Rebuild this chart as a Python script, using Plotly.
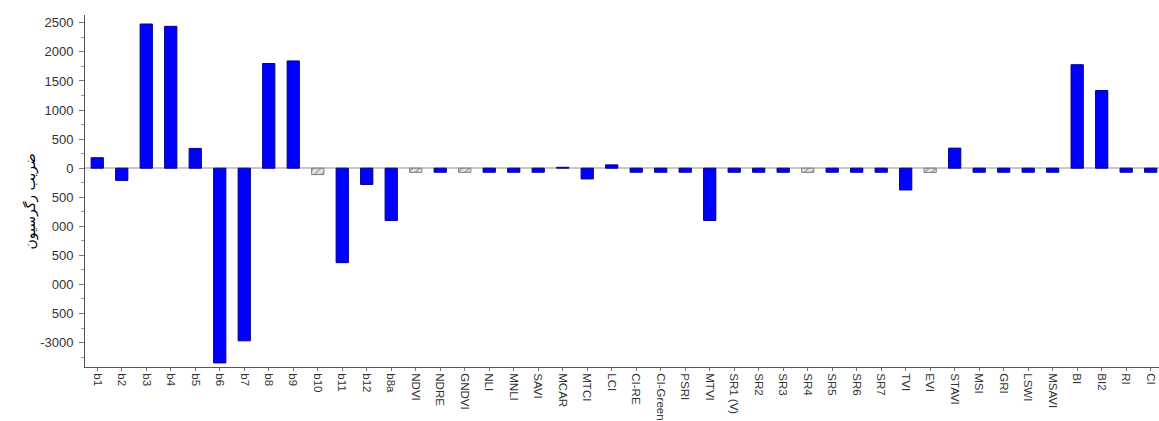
import plotly.graph_objects as go

# Regression coefficients per band / spectral index
categories = [
    "b1", "b2", "b3", "b4", "b5", "b6", "b7", "b8", "b9", "b10", "b11", "b12", "b8a",
    "NDVI", "NDRE", "GNDVI", "NLI", "MNLI", "SAVI", "MCAR", "MTCI", "LCI", "CI-RE",
    "CI-Green", "PSRI", "MTVI", "SR1 (V)", "SR2", "SR3", "SR4", "SR5", "SR6", "SR7",
    "TVI", "EVI", "STAVI", "MSI", "GRI", "LSWI", "MSAVI", "BI", "BI2", "RI", "CI",
]
coefficients = [
    180, -210, 2480, 2440, 340, -3350, -2970, 1800, 1845, -110, -1625, -280, -900,
    -72, -70, -72, -70, -70, -70, 15, -185, 57, -70,
    -70, -70, -900, -70, -70, -70, -72, -70, -70, -70,
    -375, -72, 345, -70, -70, -70, -70, 1780, 1335, -70, -70,
]
# Terms dropped from the model are drawn hatched
excluded = {"b10", "NDVI", "GNDVI", "SR4", "EVI"}

y_ticks = [2500, 2000, 1500, 1000, 500, 0, -500, -1000, -1500, -2000, -2500, -3000]
y_title = "ضریب رگرسیون"

fill = ["#e4e4e4" if c in excluded else "#0000ff" for c in categories]
edge = ["#7a7a7a" if c in excluded else "#00008b" for c in categories]
hatch = ["/" if c in excluded else "" for c in categories]

fig = go.Figure(
    go.Bar(
        x=categories,
        y=coefficients,
        width=0.5,
        marker=dict(
            color=fill,
            line=dict(color=edge, width=1),
            pattern=dict(shape=hatch, fillmode="overlay", fgcolor="#666666",
                         size=5, solidity=0.25),
        ),
        hoverinfo="x+y",
    )
)

axis_font = dict(family="Liberation Sans, Arial, sans-serif", size=13, color="#333333")

fig.update_xaxes(
    type="category",
    range=[-0.5, 43.34],
    showline=True, linecolor="#555555", linewidth=1,
    ticks="outside", ticklen=3, tickcolor="#777777",
    tickangle=90, tickfont=dict(axis_font, size=11.5),
    showgrid=False, zeroline=False,
)
fig.update_yaxes(
    range=[-3420, 2635],
    tickvals=y_ticks, ticktext=[str(v) for v in y_ticks],
    showline=True, linecolor="#555555", linewidth=1,
    ticks="outside", ticklen=5, tickcolor="#777777",
    ticklabelstandoff=3,
    minor=dict(ticks="outside", ticklen=3, tickcolor="#999999", dtick=250),
    tickfont=axis_font,
    showgrid=False,
    zeroline=True, zerolinecolor="#c8c8c8", zerolinewidth=2,
)

# White panel behind the axis title, over the left edge of the tick labels
fig.add_shape(
    type="rect", xref="paper", yref="paper",
    x0=-0.08, x1=-0.0305, y0=0.115, y1=0.62,
    fillcolor="white", line=dict(width=0), layer="above",
)

fig.add_annotation(
    text=y_title,
    xref="paper", yref="paper",
    x=0, xanchor="center", xshift=-54,
    y=0.47, yanchor="middle",
    textangle=-90,
    showarrow=False,
    font=dict(family="DejaVu Sans, Noto Sans, sans-serif", size=14, color="#000000"),
)

fig.update_layout(
    width=1159, height=421,
    margin=dict(l=85, r=0, t=15, b=47),
    plot_bgcolor="white", paper_bgcolor="white",
    showlegend=False,
)

fig.write_html("out.html")
